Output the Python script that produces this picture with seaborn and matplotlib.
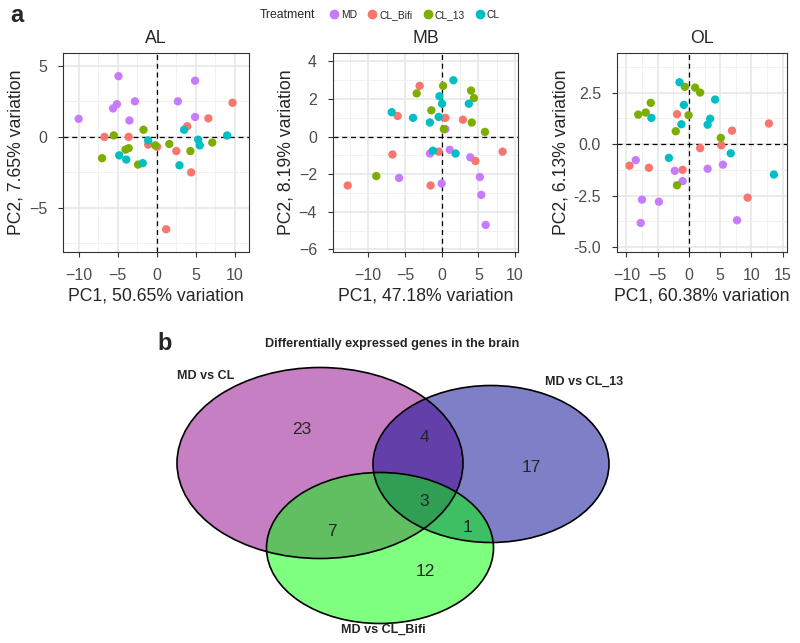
import numpy as np
import pandas as pd
import matplotlib
matplotlib.use("Agg")
import matplotlib.pyplot as plt
from matplotlib.patches import Ellipse
from matplotlib.ticker import AutoMinorLocator, MultipleLocator
from matplotlib.lines import Line2D
import seaborn as sns

# ---- PCA data ----
groups = ["MD", "CL_Bifi", "CL_13", "CL"]
palette = {"MD": "#C77CFF", "CL_Bifi": "#F8766D", "CL_13": "#7CAE00", "CL": "#00BFC4"}

al_x = {
    "MD": [-10.0, -4.9, -5.6, -5.1, -2.8, -3.5, 2.7, 4.9, 4.9],
    "CL_Bifi": [-6.7, -3.6, -1.1, 0.05, 2.5, 3.9, 6.6, 9.7, 4.4, 1.2],
    "CL_13": [-7.0, -5.5, -4.0, -3.6, -2.4, -1.7, -0.2, 1.6, 4.3, 7.1],
    "CL": [-4.8, -3.9, -1.8, -1.1, 2.9, 3.5, 5.3, 5.5, 9.0],
}
al_y = {
    "MD": [1.27, 4.27, 2.0, 2.3, 2.5, 1.15, 2.5, 3.95, 1.4],
    "CL_Bifi": [0.0, 0.0, -0.55, -0.7, -1.0, 0.75, 1.3, 2.4, -2.5, -6.5],
    "CL_13": [-1.5, 0.1, -0.9, -0.8, -1.95, 0.5, -0.6, -0.5, -1.0, -0.4],
    "CL": [-1.3, -1.6, -1.85, -0.25, -2.0, 0.5, -0.2, -0.6, 0.1],
}
mb_x = {
    "MD": [-5.8, -1.6, 0.0, 0.5, 1.1, 3.9, 5.2, 5.4, 6.0],
    "CL_Bifi": [-12.8, -6.7, -6.0, -3.0, -1.5, -0.4, 0.5, 2.9, 4.6, 8.3],
    "CL_13": [-8.9, -3.4, -1.4, 0.2, 0.3, 4.0, 4.4, 4.1, 5.9],
    "CL": [-6.8, -3.9, -1.6, -1.2, -0.3, -0.4, 0.05, 1.6, 1.9, 3.7],
}
mb_y = {
    "MD": [-2.2, -0.9, -2.5, 0.4, -0.7, -1.1, -2.15, -3.1, -4.7],
    "CL_Bifi": [-2.6, -0.95, 1.1, 2.7, -2.6, -0.8, 1.0, 0.9, -1.3, -0.8],
    "CL_13": [-2.1, 2.3, 1.4, 2.7, 0.4, 2.45, 2.05, 0.75, 0.25],
    "CL": [1.3, 1.0, 0.75, -0.75, 2.15, 1.05, 1.75, 3.0, -0.9, 1.75],
}
ol_x = {
    "MD": [-8.5, -7.5, -7.7, -4.8, -2.25, -1.0, 3.0, 5.45, 7.7],
    "CL_Bifi": [-9.5, -6.4, -1.9, -1.0, 1.8, 5.2, 6.9, 9.4, 12.8],
    "CL_13": [-8.1, -6.9, -6.1, -2.1, -1.9, -0.65, -0.05, 1.0, 1.8, 5.1],
    "CL": [-6.0, -3.2, -1.5, -0.8, -1.2, 3.0, 3.4, 4.2, 6.7, 13.6],
}
ol_y = {
    "MD": [-0.78, -2.7, -3.83, -2.8, -1.3, -1.8, -1.2, -1.0, -3.7],
    "CL_Bifi": [-1.05, -1.15, 1.45, -1.25, -0.2, -0.06, 0.65, -2.6, 1.0],
    "CL_13": [1.43, 1.53, 2.0, 0.62, -2.0, 2.78, 1.4, 2.74, 2.5, 0.3],
    "CL": [1.27, -0.67, 3.0, 1.9, 0.96, 0.94, 1.23, 2.16, -0.45, -1.48],
}

panel_names = ["AL", "MB", "OL"]
pc1_var = ["50.65", "47.18", "60.38"]
pc2_var = ["7.65", "8.19", "6.13"]

# ---- Venn data ----
venn_sets = ["MD vs CL", "MD vs CL_13", "MD vs CL_Bifi"]
venn_counts = {"100": 23, "010": 17, "001": 12, "110": 4, "101": 7, "011": 1, "111": 3}


def to_frame(xs, ys):
    rows = []
    for g in groups:
        for a, b in zip(xs[g], ys[g]):
            rows.append({"PC1": a, "PC2": b, "Treatment": g})
    return pd.DataFrame(rows)


sns.set_style("white")
plt.rcParams["font.family"] = ["Liberation Sans", "DejaVu Sans"]

fig = plt.figure(figsize=(8, 6.43), dpi=100)

W, H = 800, 643
boxes = [(63, 53, 249, 252), (333, 53, 518, 252), (617, 53, 787, 252)]
limits = [((-12.0, 11.8), (-8.1, 5.9), 5, 5),
          ((-14.8, 10.4), (-6.14, 4.45), 5, 2),
          ((-11.5, 15.7), (-5.24, 4.42), 5, 2.5)]
data = [(al_x, al_y), (mb_x, mb_y), (ol_x, ol_y)]

for i in range(3):
    l, t, r, b = boxes[i]
    ax = fig.add_axes([l / W, 1 - b / H, (r - l) / W, (b - t) / H])
    df = to_frame(*data[i])
    ax.axhline(0, color="black", ls=(0, (4, 3)), lw=0.9, zorder=1)
    ax.axvline(0, color="black", ls=(0, (4, 3)), lw=0.9, zorder=1)
    sns.scatterplot(data=df, x="PC1", y="PC2", hue="Treatment", palette=palette,
                    hue_order=groups, s=36, edgecolor="none", legend=False,
                    ax=ax, zorder=3)
    xl, yl, xs, ys = limits[i]
    ax.set_xlim(*xl)
    ax.set_ylim(*yl)
    ax.xaxis.set_major_locator(MultipleLocator(xs))
    ax.yaxis.set_major_locator(MultipleLocator(ys))
    ax.xaxis.set_minor_locator(AutoMinorLocator(2))
    ax.yaxis.set_minor_locator(AutoMinorLocator(2))
    if i == 2:
        ax.yaxis.set_major_formatter(matplotlib.ticker.FormatStrFormatter("%.1f"))
    ax.grid(True, which="major", color="#E6E6E6", lw=1.1, zorder=0)
    ax.grid(True, which="minor", color="#EFEFEF", lw=0.6, zorder=0)
    ax.set_axisbelow(True)
    for sp in ax.spines.values():
        sp.set_color("#333333")
        sp.set_linewidth(0.8)
    ax.tick_params(which="major", length=3.5, width=0.8, color="#333333",
                   labelsize=11.5, labelcolor="#4D4D4D", pad=8, left=True, bottom=True)
    ax.tick_params(which="minor", length=0)
    ax.set_xlabel(f"PC1, {pc1_var[i]}% variation", fontsize=12.7, labelpad=3)
    ax.set_ylabel(f"PC2, {pc2_var[i]}% variation", fontsize=12.7, labelpad=3)
    ax.set_title(panel_names[i], fontsize=12.7, pad=7)

# legend across the top
fig.text(260 / W, 1 - 15 / H, "Treatment", fontsize=8.8, va="center", ha="left")
handles = [Line2D([], [], marker="o", ls="", color=palette[g], markersize=6) for g in groups]
fig.legend(handles, groups, ncol=4, loc="center left", bbox_to_anchor=(323 / W, 1 - 15 / H),
           frameon=False, fontsize=7.4, handletextpad=0.05, columnspacing=0.9,
           handlelength=1.2, borderpad=0)

fig.text(10 / W, 1 - 15 / H, "a", fontsize=17, fontweight="bold", va="center")
fig.text(157 / W, 1 - 343 / H, "b", fontsize=17, fontweight="bold", va="center")

# ---- Venn diagram ----
axv = fig.add_axes([150 / W, 0, 500 / W, 313 / H])
axv.set_xlim(150, 650)
axv.set_ylim(643, 330)
axv.axis("off")

ellipses = [((320, 463), 286, 191, (143 / 255, 0, 137 / 255)),
            ((491, 464), 236, 157, (0, 0, 145 / 255)),
            ((380, 548), 227, 151, (0, 1, 0))]
for (c, w, h, col) in ellipses:
    axv.add_patch(Ellipse(c, w, h, facecolor=col, alpha=0.5, edgecolor="none"))
for (c, w, h, col) in ellipses:
    axv.add_patch(Ellipse(c, w, h, facecolor="none", edgecolor="black", lw=1.2))

count_pos = {"100": (302, 429), "010": (531, 467), "001": (425, 571),
             "110": (424, 437), "101": (332, 531), "011": (468, 527), "111": (424, 501)}
for k, v in venn_counts.items():
    x, y = count_pos[k]
    axv.text(x, y, str(v), fontsize=12.5, ha="center", va="center")

axv.text(177, 376, venn_sets[0], fontsize=9, fontweight="bold", ha="left", va="center")
axv.text(623, 382, venn_sets[1], fontsize=9, fontweight="bold", ha="right", va="center")
axv.text(383, 630, venn_sets[2], fontsize=9, fontweight="bold", ha="center", va="center")
axv.text(392, 344, "Differentially expressed genes in the brain", fontsize=9.1,
         fontweight="bold", ha="center", va="center")

fig.savefig("out.png", dpi=100)
